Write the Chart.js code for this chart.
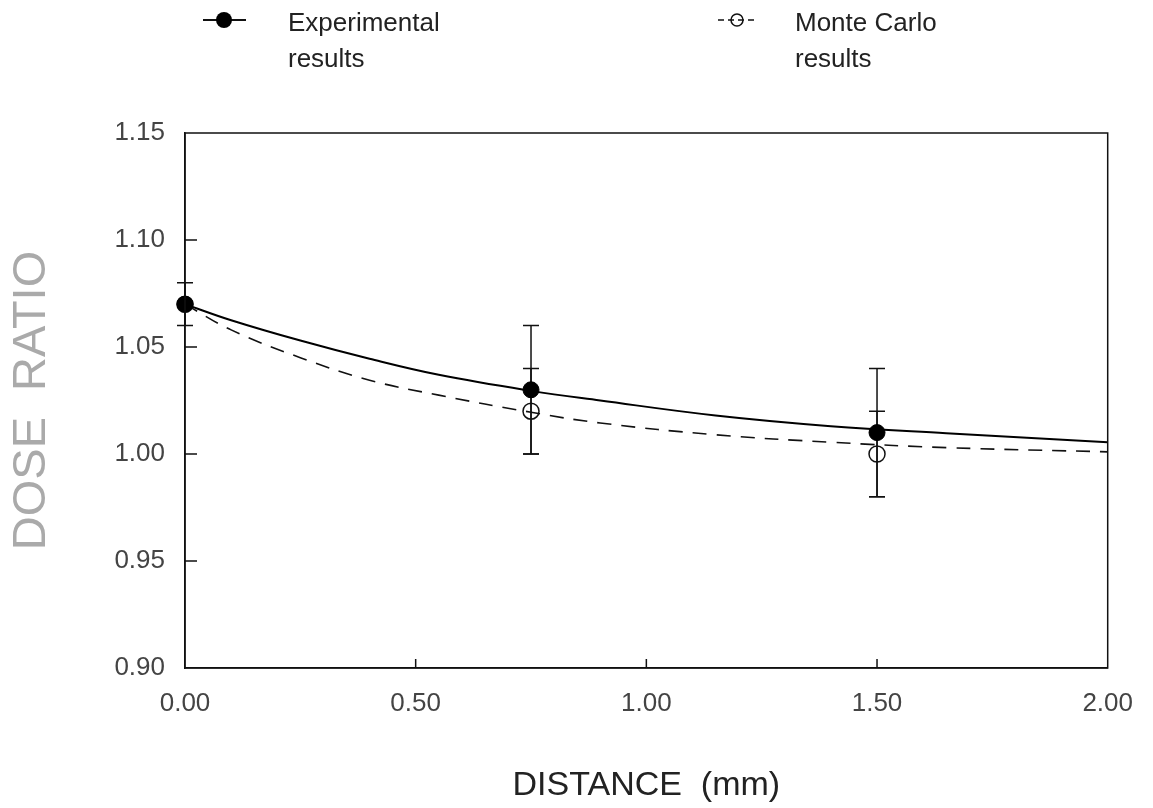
<!DOCTYPE html>
<html>
<head>
<meta charset="utf-8">
<script src="https://cdn.jsdelivr.net/npm/chart.js@4.4.1/dist/chart.umd.min.js"></script>
<style>
  html, body { margin: 0; padding: 0; background: #fff; }
  #wrap { width: 1153px; height: 808px; position: relative; }
</style>
</head>
<body>
<div id="wrap"><canvas id="doseChart"></canvas></div>
<script>
// measured points (distance in mm)
const pointDistances = [0.0, 0.75, 1.50];
const experimentalValues = [1.07, 1.03, 1.01];
const experimentalErrors = [0.01, 0.03, 0.03];
const monteCarloValues = [1.07, 1.02, 1.00];
const monteCarloErrors = [0, 0.02, 0.02];

// fitted curves
const curveDistances = [0, 0.10, 0.25, 0.40, 0.55, 0.75, 0.90, 1.15, 1.40, 1.65, 2.00];
const experimentalCurve = [1.070, 1.0625, 1.053, 1.0445, 1.037, 1.0295, 1.025, 1.018, 1.013, 1.0097, 1.0055];
const monteCarloCurve = [1.070, 1.058, 1.045, 1.0345, 1.0275, 1.0195, 1.0145, 1.009, 1.0055, 1.003, 1.001];

// axis ticks
const xTicks = [0, 0.5, 1.0, 1.5, 2.0];
const yTicks = [0.90, 0.95, 1.00, 1.05, 1.10, 1.15];

const FONT = "'Liberation Sans', Arial, sans-serif";

const toXY = (xs, ys) => xs.map((x, i) => ({ x: x, y: ys[i] }));

// error bars, drawn under the markers
const errorBarPlugin = {
    id: 'errorBars',
    beforeDatasetsDraw(chart) {
        const { ctx, scales: { x, y } } = chart;
        const sets = [
            { vals: experimentalValues, errs: experimentalErrors },
            { vals: monteCarloValues, errs: monteCarloErrors }
        ];
        ctx.save();
        ctx.strokeStyle = '#111';
        ctx.lineWidth = 1.5;
        sets.forEach(s => {
            pointDistances.forEach((d, i) => {
                if (!s.errs[i]) return;
                const px = x.getPixelForValue(d);
                const top = y.getPixelForValue(s.vals[i] + s.errs[i]);
                const bot = y.getPixelForValue(s.vals[i] - s.errs[i]);
                ctx.beginPath();
                ctx.moveTo(px, top); ctx.lineTo(px, bot);
                ctx.moveTo(px - 8, top); ctx.lineTo(px + 8, top);
                ctx.moveTo(px - 8, bot); ctx.lineTo(px + 8, bot);
                ctx.stroke();
            });
        });
        ctx.restore();
    }
};

// frame with inward tick marks, plus the legend at the top
const framePlugin = {
    id: 'frame',
    afterDraw(chart) {
        const { ctx, chartArea: a, scales: { x, y } } = chart;
        ctx.save();
        ctx.strokeStyle = '#111';
        ctx.lineWidth = 1.5;
        ctx.strokeRect(a.left, a.top, a.right - a.left, a.bottom - a.top);
        ctx.beginPath();
        xTicks.slice(1, -1).forEach(v => {
            const px = x.getPixelForValue(v);
            ctx.moveTo(px, a.bottom); ctx.lineTo(px, a.bottom - 9);
        });
        yTicks.slice(1, -1).forEach(v => {
            const py = y.getPixelForValue(v);
            ctx.moveTo(a.left, py); ctx.lineTo(a.left + 12, py);
        });
        ctx.stroke();

        // legend
        ctx.lineWidth = 2;
        ctx.beginPath();
        ctx.moveTo(203, 20); ctx.lineTo(246, 20);
        ctx.stroke();
        ctx.fillStyle = '#000';
        ctx.beginPath();
        ctx.arc(224, 20, 8, 0, Math.PI * 2);
        ctx.fill();

        ctx.lineWidth = 1.5;
        ctx.setLineDash([6, 4]);
        ctx.beginPath();
        ctx.moveTo(718, 20); ctx.lineTo(757, 20);
        ctx.stroke();
        ctx.setLineDash([]);
        ctx.beginPath();
        ctx.arc(737, 20, 6, 0, Math.PI * 2);
        ctx.stroke();

        ctx.fillStyle = '#222';
        ctx.font = '26px ' + FONT;
        ctx.textAlign = 'left';
        ctx.textBaseline = 'alphabetic';
        ctx.fillText('Experimental', 288, 31);
        ctx.fillText('results', 288, 67);
        ctx.fillText('Monte Carlo', 795, 31);
        ctx.fillText('results', 795, 67);
        ctx.restore();
    }
};

const ctx = document.getElementById('doseChart');

new Chart(ctx, {
    type: 'scatter',
    data: {
        datasets: [
            {
                label: 'Experimental results',
                data: toXY(pointDistances, experimentalValues),
                pointRadius: 8,
                pointBackgroundColor: '#000',
                pointBorderColor: '#000',
                showLine: false,
                clip: false
            },
            {
                label: 'Monte Carlo results',
                data: toXY(pointDistances, monteCarloValues),
                pointRadius: 8,
                pointBackgroundColor: 'rgba(0,0,0,0)',
                pointBorderColor: '#111',
                pointBorderWidth: 1.5,
                showLine: false,
                clip: false
            },
            {
                label: 'Experimental fit',
                data: toXY(curveDistances, experimentalCurve),
                showLine: true,
                borderColor: '#000',
                borderWidth: 2,
                pointRadius: 0,
                tension: 0.4
            },
            {
                label: 'Monte Carlo fit',
                data: toXY(curveDistances, monteCarloCurve),
                showLine: true,
                borderColor: '#111',
                borderWidth: 1.6,
                borderDash: [14, 10],
                pointRadius: 0,
                tension: 0.4
            }
        ]
    },
    options: {
        responsive: true,
        maintainAspectRatio: false,
        animation: false,
        layout: { padding: { left: 0, top: 133, right: 41, bottom: 0 } },
        plugins: {
            legend: { display: false },
            tooltip: { enabled: false }
        },
        scales: {
            x: {
                type: 'linear',
                min: 0,
                max: 2,
                afterFit: s => { s.height = 140; },
                afterBuildTicks: s => { s.ticks = xTicks.map(v => ({ value: v })); },
                grid: { display: false, drawTicks: false },
                border: { display: true, color: '#111', width: 1.5 },
                ticks: {
                    padding: 20,
                    color: '#444',
                    font: { family: FONT, size: 26 },
                    callback: v => Number(v).toFixed(2)
                },
                title: {
                    display: true,
                    text: 'DISTANCE  (mm)',
                    color: '#222',
                    font: { family: FONT, size: 34 },
                    padding: { top: 0, bottom: 2 }
                }
            },
            y: {
                min: 0.90,
                max: 1.15,
                afterFit: s => { s.width = 185; },
                afterBuildTicks: s => { s.ticks = yTicks.map(v => ({ value: v })); },
                grid: { display: false, drawTicks: false },
                border: { display: true, color: '#111', width: 1.5 },
                ticks: {
                    padding: 20,
                    color: '#444',
                    font: { family: FONT, size: 26 },
                    callback: v => Number(v).toFixed(2)
                },
                title: {
                    display: true,
                    text: 'DOSE  RATIO',
                    color: '#aaa',
                    font: { family: FONT, size: 47 },
                    padding: { top: 4, bottom: 0 }
                }
            }
        }
    },
    plugins: [errorBarPlugin, framePlugin]
});
</script>
</body>
</html>
